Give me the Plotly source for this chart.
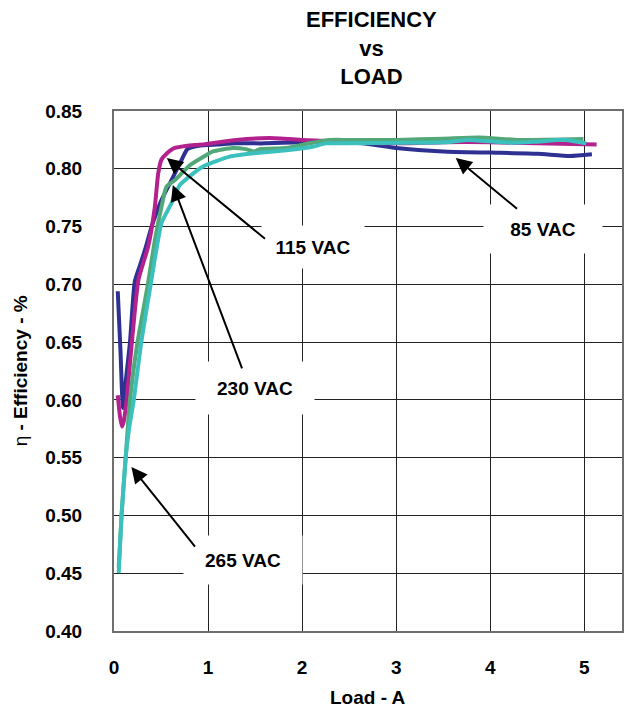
import plotly.graph_objects as go

# Efficiency vs load for four AC input voltages
load_85 = [0.04, 0.07, 0.095, 0.13, 0.17, 0.22, 0.27, 0.33, 0.40, 0.50, 0.61, 0.72, 0.78, 0.90, 1.1, 1.3, 1.6, 2.0, 2.3, 2.64, 3.0, 3.5, 4.0, 4.5, 4.85, 5.08]
eff_85 = [0.694, 0.640, 0.593, 0.620, 0.650, 0.702, 0.715, 0.730, 0.750, 0.772, 0.790, 0.808, 0.817, 0.820, 0.821, 0.822, 0.822, 0.823, 0.823, 0.822, 0.818, 0.815, 0.814, 0.813, 0.811, 0.8125]

load_115 = [0.04, 0.065, 0.085, 0.105, 0.134, 0.19, 0.26, 0.364, 0.434, 0.47, 0.505, 0.558, 0.646, 0.86, 0.95, 1.3, 1.65, 2.0, 2.5, 3.0, 3.5, 4.0, 4.5, 5.13]
eff_115 = [0.604, 0.585, 0.577, 0.582, 0.600, 0.650, 0.704, 0.733, 0.767, 0.796, 0.808, 0.813, 0.818, 0.8206, 0.821, 0.825, 0.8266, 0.825, 0.823, 0.822, 0.823, 0.823, 0.822, 0.821]

load_230 = [0.05, 0.08, 0.124, 0.17, 0.25, 0.36, 0.434, 0.505, 0.558, 0.646, 0.805, 0.964, 1.05, 1.26, 1.40, 1.49, 1.55, 1.83, 2.11, 2.29, 2.46, 3.0, 3.5, 3.88, 4.30, 4.99]
eff_230 = [0.455, 0.500, 0.550, 0.600, 0.650, 0.700, 0.738, 0.767, 0.7845, 0.790, 0.803, 0.811, 0.815, 0.818, 0.817, 0.815, 0.817, 0.818, 0.8226, 0.8249, 0.825, 0.825, 0.826, 0.827, 0.825, 0.8258]

load_265 = [0.05, 0.08, 0.124, 0.16, 0.21, 0.29, 0.39, 0.505, 0.61, 0.70, 0.946, 1.23, 1.49, 1.83, 2.11, 2.25, 2.47, 3.17, 3.53, 3.77, 4.23, 4.48, 4.8, 5.02]
eff_265 = [0.450, 0.500, 0.550, 0.575, 0.600, 0.650, 0.700, 0.753, 0.770, 0.786, 0.802, 0.8105, 0.8134, 0.816, 0.819, 0.822, 0.822, 0.8225, 0.823, 0.825, 0.8225, 0.8234, 0.825, 0.822]

series = [
    ("85 VAC", load_85, eff_85, "#2E3192"),
    ("115 VAC", load_115, eff_115, "#B2218E"),
    ("230 VAC", load_230, eff_230, "#52A878"),
    ("265 VAC", load_265, eff_265, "#3CC0BE"),
]

x_ticks = [0, 1, 2, 3, 4, 5]
y_ticks = [0.40, 0.45, 0.50, 0.55, 0.60, 0.65, 0.70, 0.75, 0.80, 0.85]

FONT = "Liberation Sans, Arial, sans-serif"

fig = go.Figure()
for name, xs, ys, color in series:
    fig.add_trace(go.Scatter(
        x=xs, y=ys, name=name, mode="lines",
        line=dict(color=color, width=4, shape="spline", smoothing=0.5),
        showlegend=False,
    ))

# callout labels: text, box centre (data units), box size (px)
callouts = [
    ("115 VAC", 2.119, 0.7323, 100, 40),
    ("230 VAC", 1.494, 0.6103, 116, 50),
    ("265 VAC", 1.367, 0.4614, 116, 46),
    ("85 VAC", 4.555, 0.7479, 116, 46),
]
# arrows: tail (ax, ay) -> head (x, y)
arrows = [
    (1.621, 0.7384, 0.561, 0.8093),
    (1.367, 0.6259, 0.625, 0.7860),
    (0.874, 0.4718, 0.185, 0.5419),
    (4.30, 0.7643, 3.633, 0.8093),
]

annotations = []
for text, cx, cy, w, h in callouts:
    annotations.append(dict(
        x=cx, y=cy, xref="x", yref="y", text=f"<b>{text}</b>", showarrow=False,
        bgcolor="white", width=w, height=h, align="center", valign="middle",
        font=dict(family=FONT, size=19, color="black"),
    ))
for ax, ay, hx, hy in arrows:
    annotations.append(dict(
        x=hx, y=hy, ax=ax, ay=ay, xref="x", yref="y", axref="x", ayref="y",
        text="", showarrow=True, arrowhead=2, arrowsize=1.6, arrowwidth=2,
        arrowcolor="black", standoff=0, startstandoff=0,
    ))

# chart title, three centred lines above the plot area
annotations.append(dict(
    x=259 / 510, y=1 + 63 / 520, xref="paper", yref="paper",
    xanchor="center", yanchor="middle",
    text="<b>EFFICIENCY<br>vs<br>LOAD</b>", showarrow=False,
    font=dict(family=FONT, size=22, color="black"),
))
annotations.append(dict(
    x=-94 / 510, y=0.5, xref="paper", yref="paper", textangle=-90,
    xanchor="center", yanchor="middle",
    text="η<b> - Efficiency - %</b>", showarrow=False,
    font=dict(family=FONT, size=19, color="black"),
))
annotations.append(dict(
    x=0.5, y=-66 / 520, xref="paper", yref="paper",
    xanchor="center", yanchor="middle",
    text="<b>Load - A</b>", showarrow=False,
    font=dict(family=FONT, size=19, color="black"),
))

fig.update_layout(
    width=626, height=712,
    margin=dict(l=114, r=2, t=111, b=81),
    paper_bgcolor="white", plot_bgcolor="white",
    xaxis=dict(
        range=[0, 5.4], tickvals=x_ticks, ticktext=[f"<b>{v}</b>" for v in x_ticks],
        showgrid=True, gridcolor="#222", gridwidth=1,
        showline=True, linecolor="#6e6e6e", linewidth=2, mirror=True,
        ticks="", ticklabelstandoff=18, zeroline=False,
        tickfont=dict(family=FONT, size=19, color="black"),
    ),
    yaxis=dict(
        range=[0.40, 0.85], tickvals=y_ticks, ticktext=[f"<b>{v:.2f}</b>" for v in y_ticks],
        showgrid=True, gridcolor="#222", gridwidth=1,
        showline=True, linecolor="#6e6e6e", linewidth=2, mirror=True,
        ticks="", ticklabelstandoff=26, zeroline=False,
        tickfont=dict(family=FONT, size=19, color="black"),
    ),
    annotations=annotations,
)

fig.write_html("out.html")
